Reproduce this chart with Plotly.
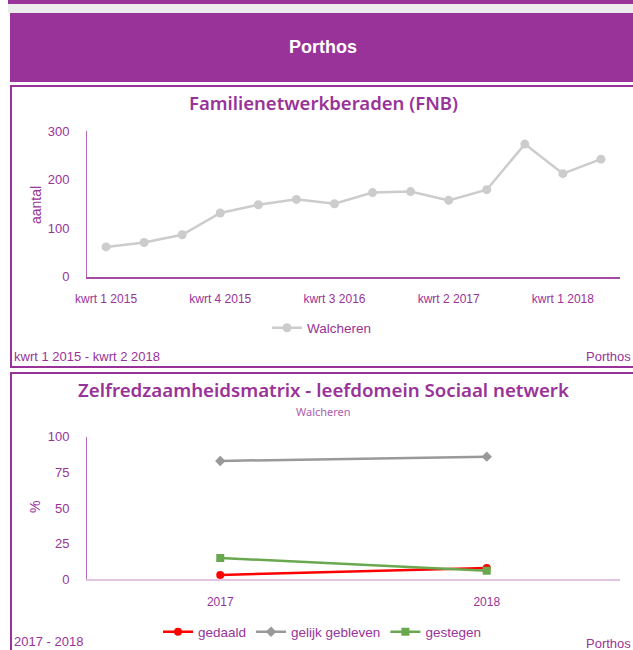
import plotly.graph_objects as go

# ---------------- data ----------------
quarters = ["kwrt 1 2015", "kwrt 2 2015", "kwrt 3 2015", "kwrt 4 2015",
            "kwrt 1 2016", "kwrt 2 2016", "kwrt 3 2016", "kwrt 4 2016",
            "kwrt 1 2017", "kwrt 2 2017", "kwrt 3 2017", "kwrt 4 2017",
            "kwrt 1 2018", "kwrt 2 2018"]
fnb_walcheren = [61, 70, 86, 131, 148, 159, 150, 173, 175, 157, 179, 273, 212, 242]
fnb_tickvals = ["kwrt 1 2015", "kwrt 4 2015", "kwrt 3 2016", "kwrt 2 2017", "kwrt 1 2018"]
fnb_yticks = [0, 100, 200, 300]

years = ["2017", "2018"]
zrm_gedaald = [3, 8]
zrm_gelijk = [83, 86]
zrm_gestegen = [15, 6]
zrm_yticks = [0, 25, 50, 75, 100]

# ---------------- layout helpers ----------------
W, H = 633, 650
PURPLE = "#993399"
def X(px): return px / W
def Y(py): return 1 - py / H

AX_FONT = dict(family="Liberation Sans, Arial, sans-serif", size=12, color=PURPLE)
TITLE_FONT = "Noto Sans, Open Sans, sans-serif"

fig = go.Figure()

fig.add_trace(go.Scatter(
    x=quarters, y=fnb_walcheren, name="Walcheren", mode="lines+markers",
    line=dict(color="#cccccc", width=2.5),
    marker=dict(symbol="circle", size=9, color="#cccccc"),
    xaxis="x", yaxis="y", legend="legend"))

fig.add_trace(go.Scatter(
    x=years, y=zrm_gedaald, name="gedaald", mode="lines+markers",
    line=dict(color="#ff0000", width=2.5),
    marker=dict(symbol="circle", size=8, color="#ff0000"),
    xaxis="x2", yaxis="y2", legend="legend2"))
fig.add_trace(go.Scatter(
    x=years, y=zrm_gelijk, name="gelijk gebleven", mode="lines+markers",
    line=dict(color="#999999", width=2.5),
    marker=dict(symbol="diamond", size=8, color="#999999"),
    xaxis="x2", yaxis="y2", legend="legend2"))
fig.add_trace(go.Scatter(
    x=years, y=zrm_gestegen, name="gestegen", mode="lines+markers",
    line=dict(color="#6aa84f", width=2.5),
    marker=dict(symbol="square", size=8, color="#6aa84f"),
    xaxis="x2", yaxis="y2", legend="legend2"))

shapes = [
    dict(type="rect", xref="paper", yref="paper", x0=X(8), x1=X(640), y0=Y(0), y1=Y(4),
         fillcolor=PURPLE, line=dict(width=0), layer="below"),
    dict(type="rect", xref="paper", yref="paper", x0=X(8), x1=X(640), y0=Y(4), y1=Y(13),
         fillcolor="#ececec", line=dict(width=0), layer="below"),
    dict(type="rect", xref="paper", yref="paper", x0=X(10), x1=X(640), y0=Y(13), y1=Y(82),
         fillcolor=PURPLE, line=dict(width=0), layer="below"),
    dict(type="rect", xref="paper", yref="paper", x0=X(11), x1=X(645), y0=Y(86), y1=Y(367),
         fillcolor="white", line=dict(width=2, color=PURPLE), layer="below"),
    dict(type="rect", xref="paper", yref="paper", x0=X(11), x1=X(645), y0=Y(373), y1=Y(670),
         fillcolor="white", line=dict(width=2, color=PURPLE), layer="below"),
]

def ann(text, x, y, size, color=PURPLE, family="Liberation Sans, Arial, sans-serif",
        xanchor="center", angle=0, weight=None):
    f = dict(family=family, size=size, color=color)
    if weight:
        f["weight"] = weight
    return dict(text=text, x=X(x), y=Y(y), xref="paper", yref="paper", showarrow=False,
                xanchor=xanchor, yanchor="middle", textangle=angle, font=f)

annotations = [
    ann("<b>Porthos</b>", 323, 47, 18, color="white"),
    ann("Familienetwerkberaden (FNB)", 323, 103, 18.5, family=TITLE_FONT, weight=600),
    ann("aantal", 36, 205, 14, angle=-90),
    ann("kwrt 1 2015 - kwrt 2 2018", 12, 356, 13, xanchor="left"),
    ann("Porthos", 633, 356, 13, xanchor="right"),
    ann("Zelfredzaamheidsmatrix - leefdomein Sociaal netwerk", 323, 389, 18.7, family=TITLE_FONT, weight=600),
    ann("Walcheren", 323, 411, 11, color="#b05cb0", family=TITLE_FONT),
    ann("%", 35, 507, 14, angle=-90),
    ann("2017 - 2018", 12, 641, 13, xanchor="left"),
    ann("Porthos", 633, 643, 13, xanchor="right"),
]

fig.update_layout(
    width=W, height=H, margin=dict(l=0, r=0, t=0, b=0, autoexpand=False),
    paper_bgcolor="white", plot_bgcolor="rgba(0,0,0,0)",
    shapes=shapes, annotations=annotations,
    xaxis=dict(domain=[X(87), X(620)], anchor="y", type="category", range=[-0.5, 13.5],
               tickmode="array", tickvals=fnb_tickvals, ticktext=fnb_tickvals, automargin=False,
               showgrid=False, zeroline=False, showline=True, linecolor="#a24ca2", linewidth=2,
               ticks="", tickfont=AX_FONT, ticklabelstandoff=10, fixedrange=True),
    yaxis=dict(domain=[Y(276.5), Y(131)], anchor="x", range=[0, 300], tickvals=fnb_yticks,
               automargin=False,
               showgrid=False, zeroline=False, showline=True, linecolor="#b46ab4", linewidth=1,
               ticks="", tickfont=dict(AX_FONT, size=13), ticklabelstandoff=14, fixedrange=True),
    xaxis2=dict(domain=[X(87), X(620)], anchor="y2", type="category", range=[-0.5, 1.5],
                automargin=False,
                showgrid=False, zeroline=False, showline=True, linecolor="#e2c4e2", linewidth=2,
                ticks="", tickfont=AX_FONT, ticklabelstandoff=10, fixedrange=True),
    yaxis2=dict(domain=[Y(579.3), Y(436.7)], anchor="x2", range=[0, 100], tickvals=zrm_yticks,
                automargin=False,
                showgrid=False, zeroline=False, showline=True, linecolor="#b46ab4", linewidth=1,
                ticks="", tickfont=dict(AX_FONT, size=13), ticklabelstandoff=14, fixedrange=True),
    legend=dict(orientation="h", x=X(322), xanchor="center", y=Y(328), yanchor="middle",
                font=dict(AX_FONT, size=13.5), bgcolor="rgba(0,0,0,0)", itemwidth=30),
    legend2=dict(orientation="h", x=X(322), xanchor="center", y=Y(632), yanchor="middle",
                 font=dict(AX_FONT, size=13.5), bgcolor="rgba(0,0,0,0)", itemwidth=30),
    showlegend=True,
)

fig.write_html(
    "out.html",
    config={"displayModeBar": False},
    post_script="document.body.style.margin='0';document.body.style.overflow='hidden';"
                "document.documentElement.style.overflow='hidden';",
)
